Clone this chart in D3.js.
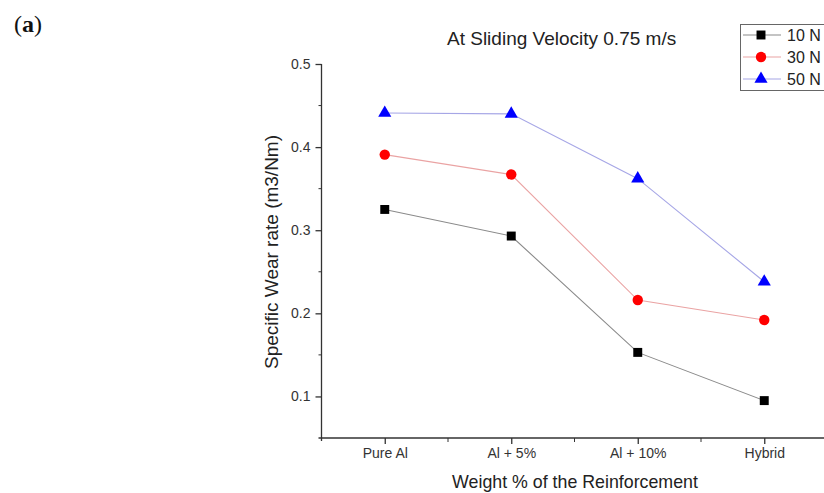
<!DOCTYPE html>
<html>
<head>
<meta charset="utf-8">
<script src="https://cdn.jsdelivr.net/npm/d3@7"></script>
<style>
  body { margin: 0; background: #fff; }
  svg { display: block; font-family: "Liberation Sans", Arial, sans-serif; }
</style>
</head>
<body>
<svg id="chart" width="824" height="493"></svg>
<script>
// categories along the x axis
var categories = ['Pure Al', 'Al + 5%', 'Al + 10%', 'Hybrid'];
// specific wear rate per load
var load10 = [0.325, 0.293, 0.153, 0.095];
var load30 = [0.391, 0.367, 0.216, 0.192];
var load50 = [0.441, 0.440, 0.362, 0.238];
var seriesNames = ['10 N', '30 N', '50 N'];
var yTicks = [0.1, 0.2, 0.3, 0.4, 0.5];
var yMinor = [0.15, 0.25, 0.35, 0.45];

var series = [
  {name: seriesNames[0], values: load10, line: '#8a8a8a', fill: '#000', shape: d3.symbolSquare, size: 80},
  {name: seriesNames[1], values: load30, line: '#eaa3a3', fill: '#f00', shape: d3.symbolCircle, size: 85},
  {name: seriesNames[2], values: load50, line: '#a6a6e6', fill: '#00f', shape: d3.symbolTriangle, size: 75}
];

var svg = d3.select('#chart');
var left = 321.5, bottom = 438;

var x = d3.scaleLinear().domain([-0.5, 3.5]).range([left, left + 4 * 126.5]);
var y = d3.scaleLinear().domain([0.05, 0.5]).range([bottom, 64]);

// y axis
var yAxis = svg.append('g').attr('transform', 'translate(' + left + ',0)')
  .call(d3.axisLeft(y).tickValues(yTicks).tickSize(6).tickSizeOuter(0).tickFormat(d3.format('.1f')));
yAxis.append('g').selectAll('line').data(yMinor).enter().append('line')
  .attr('x1', -3).attr('x2', 0).attr('y1', y).attr('y2', y).attr('stroke', '#333');
yAxis.select('.domain').attr('d', 'M0,' + (bottom + 3) + 'V64');

// x axis
var xAxis = svg.append('g').attr('transform', 'translate(0,' + bottom + ')')
  .call(d3.axisBottom(x).tickValues(d3.range(categories.length)).tickSize(6).tickSizeOuter(0)
    .tickFormat(function(d) { return categories[d]; }));
xAxis.append('g').selectAll('line').data([0.5, 1.5, 2.5]).enter().append('line')
  .attr('x1', x).attr('x2', x).attr('y1', 0).attr('y2', 4).attr('stroke', '#333');
xAxis.select('.domain').attr('d', 'M' + (left - 3) + ',0H' + x(3.5));

svg.selectAll('.domain, .tick line').attr('stroke', '#333').attr('stroke-width', 1.3);
svg.selectAll('g').attr('font-family', null);
svg.selectAll('.tick text').attr('fill', '#333').style('font-size', '14px')
  .style('font-family', '"Liberation Sans", Arial, sans-serif');
yAxis.selectAll('.tick text').attr('x', -11);
xAxis.selectAll('.tick text').attr('y', 10);

// lines and markers
var line = d3.line().x(function(d, i) { return x(i); }).y(function(d) { return y(d); });
series.forEach(function(s) {
  svg.append('path').datum(s.values).attr('d', line)
    .attr('fill', 'none').attr('stroke', s.line).attr('stroke-width', 1.1);
});
series.forEach(function(s) {
  svg.append('g').selectAll('path').data(s.values).enter().append('path')
    .attr('d', d3.symbol().type(s.shape).size(s.size))
    .attr('transform', function(d, i) { return 'translate(' + x(i) + ',' + y(d) + ')'; })
    .attr('fill', s.fill);
});

// titles
svg.append('text').attr('x', 447).attr('y', 45)
  .attr('fill', '#222').style('font-size', '19px').text('At Sliding Velocity 0.75 m/s');
svg.append('text').attr('x', 575).attr('y', 488).attr('text-anchor', 'middle')
  .attr('fill', '#222').style('font-size', '17.8px').text('Weight % of the Reinforcement');
svg.append('text').attr('transform', 'translate(278,252) rotate(-90)').attr('text-anchor', 'middle')
  .attr('fill', '#222').style('font-size', '19px').text('Specific Wear rate (m3/Nm)');
svg.append('text').attr('x', 14).attr('y', 32).style('font-family', '"Liberation Serif", serif')
  .style('font-size', '24px').attr('fill', '#111').html('(<tspan font-weight="bold">a</tspan>)');

// legend
var legend = svg.append('g');
legend.append('rect').attr('x', 740.5).attr('y', 24.5).attr('width', 100).attr('height', 66)
  .attr('fill', '#fff').attr('stroke', '#666').attr('stroke-width', 1);
series.forEach(function(s, i) {
  var ly = 35 + i * 22;
  legend.append('line').attr('x1', 743).attr('x2', 781).attr('y1', ly).attr('y2', ly)
    .attr('stroke', s.line).attr('stroke-width', 1.1);
  legend.append('path').attr('d', d3.symbol().type(s.shape).size(s.size))
    .attr('transform', 'translate(761,' + ly + ')').attr('fill', s.fill);
  legend.append('text').attr('x', 787).attr('y', ly + 6).attr('fill', '#222')
    .style('font-size', '16px').text(s.name);
});
</script>
</body>
</html>
